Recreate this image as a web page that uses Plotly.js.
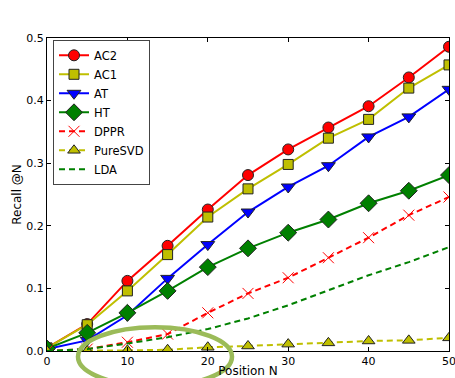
<!DOCTYPE html>
<html>
<head>
<meta charset="utf-8">
<script src="https://cdn.plot.ly/plotly-3.0.1.min.js"></script>
<style>html,body{margin:0;padding:0;background:#fff;}#chart{width:455px;height:378px;}</style>
</head>
<body>
<div id="chart"></div>
<script>
const positions = [0, 5, 10, 15, 20, 25, 30, 35, 40, 45, 50];
const ac2     = [0.005, 0.043, 0.112, 0.168, 0.226, 0.281, 0.322, 0.357, 0.391, 0.437, 0.486];
const ac1     = [0.005, 0.042, 0.096, 0.154, 0.214, 0.259, 0.298, 0.340, 0.370, 0.420, 0.457];
const at      = [0.003, 0.017, 0.057, 0.116, 0.170, 0.222, 0.262, 0.296, 0.342, 0.374, 0.418];
const ht      = [0.004, 0.029, 0.061, 0.096, 0.134, 0.164, 0.189, 0.210, 0.236, 0.256, 0.281];
const dppr    = [0.000, 0.003, 0.014, 0.027, 0.061, 0.092, 0.117, 0.149, 0.181, 0.217, 0.246];
const puresvd = [0.000, 0.000, 0.001, 0.002, 0.006, 0.008, 0.011, 0.013, 0.016, 0.017, 0.021];
const lda     = [0.000, 0.003, 0.012, 0.022, 0.035, 0.052, 0.073, 0.097, 0.121, 0.142, 0.166];
const xTicks = [0, 10, 20, 30, 40, 50];
const yTicks = [0.0, 0.1, 0.2, 0.3, 0.4, 0.5];
const yTickText = ['0.0', '0.1', '0.2', '0.3', '0.4', '0.5'];

const edge = {color: '#222', width: 1};
const traces = [
  {name: 'AC2', y: ac2, line: {color: '#ff0000', width: 2}, marker: {symbol: 'circle', size: 11, color: '#ff0000', line: edge}},
  {name: 'AC1', y: ac1, line: {color: '#bfbf00', width: 2}, marker: {symbol: 'square', size: 10, color: '#bfbf00', line: edge}},
  {name: 'AT', y: at, line: {color: '#0000ff', width: 2}, marker: {symbol: 'triangle-down', size: 12, color: '#0000ff', line: edge}},
  {name: 'HT', y: ht, line: {color: '#008000', width: 2}, marker: {symbol: 'diamond', size: 13, color: '#008000', line: edge}},
  {name: 'DPPR', y: dppr, line: {color: '#ff0000', width: 2, dash: '6px,4px'}, marker: {symbol: 'x-thin-open', size: 11, color: '#ff0000', line: {color: '#ff0000', width: 1}}},
  {name: 'PureSVD', y: puresvd, line: {color: '#bfbf00', width: 2, dash: '6px,4px'}, marker: {symbol: 'triangle-up', size: 11, color: '#bfbf00', line: edge}},
  {name: 'LDA', y: lda, mode: 'lines', line: {color: '#008000', width: 2, dash: '6px,4px'}}
].map(t => Object.assign({x: positions, type: 'scatter', mode: 'lines+markers'}, t));

const font = {family: 'DejaVu Sans, sans-serif', size: 11, color: '#000'};
const x0 = 47, x1 = 449, yTop = 37.7, yBot = 350.7;
const px = v => (v - x0) / (x1 - x0);
const py = v => (yBot - v) / (yBot - yTop);

const layout = {
  width: 455, height: 378,
  margin: {l: 47, r: 6, t: 38, b: 27},
  paper_bgcolor: '#fff', plot_bgcolor: '#fff',
  font: font,
  showlegend: true,
  legend: {x: px(53), y: py(39.5), xanchor: 'left', yanchor: 'top', bordercolor: '#444', borderwidth: 1,
           bgcolor: '#fff', font: {family: 'DejaVu Sans, sans-serif', size: 11.5, color: '#000'}, tracegroupgap: 0},
  xaxis: {range: [0, 50], tickvals: xTicks, ticks: 'inside', ticklen: 4, tickcolor: '#000', showline: true, linecolor: '#000',
          linewidth: 1, mirror: 'ticks', showgrid: false, zeroline: false, tickfont: font, ticklabeloverflow: 'allow',
          title: {text: 'Position N', font: {family: 'DejaVu Sans, sans-serif', size: 12}, standoff: 2}},
  yaxis: {range: [0, 0.5], tickvals: yTicks, ticktext: yTickText, ticks: 'inside', ticklen: 4, tickcolor: '#000', showline: true,
          linecolor: '#000', linewidth: 1, mirror: 'ticks', showgrid: false, zeroline: false, tickfont: font,
          title: {text: 'Recall @N', font: {family: 'DejaVu Sans, sans-serif', size: 12}, standoff: 2}},
  shapes: [{type: 'circle', xref: 'paper', yref: 'paper', x0: px(78), x1: px(232), y0: py(327), y1: py(386),
            line: {color: '#9bbb59', width: 4.5}, layer: 'above'}]
};
Plotly.newPlot('chart', traces, layout, {displayModeBar: false, staticPlot: true});
</script>
</body>
</html>
